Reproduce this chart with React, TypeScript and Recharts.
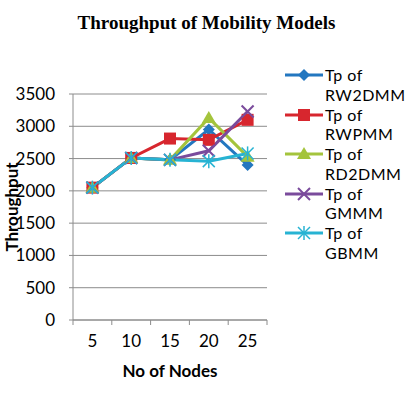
import React from "react";
import { LineChart, Line, XAxis, YAxis, CartesianGrid } from "recharts";

const nodes = [5, 10, 15, 20, 25];
const rw2dmm = [2050, 2510, 2480, 2950, 2400];
const rwpmm = [2050, 2510, 2810, 2790, 3100];
const rd2dmm = [2050, 2510, 2480, 3130, 2530];
const gmmm = [2050, 2510, 2480, 2620, 3230];
const gbmm = [2050, 2510, 2480, 2460, 2580];
const yTicks = [0, 500, 1000, 1500, 2000, 2500, 3000, 3500];
// category boundaries, where Excel puts the x tick marks
const xBounds = [2.5, 7.5, 12.5, 17.5, 22.5, 27.5];

const data = nodes.map((n, i) => ({
  n,
  rw2dmm: rw2dmm[i],
  rwpmm: rwpmm[i],
  rd2dmm: rd2dmm[i],
  gmmm: gmmm[i],
  gbmm: gbmm[i],
}));

const FONT = "Lato, 'Liberation Sans', sans-serif";

type Shape = "diamond" | "square" | "triangle" | "x" | "star";

function Marker({ cx, cy, shape, color }: { cx: number; cy: number; shape: Shape; color: string }) {
  if (cx == null || cy == null) return null;
  if (shape === "diamond") {
    const r = 6;
    return <polygon points={`${cx},${cy - r} ${cx + r},${cy} ${cx},${cy + r} ${cx - r},${cy}`} fill={color} />;
  }
  if (shape === "square") {
    return <rect x={cx - 6} y={cy - 6} width={12} height={12} fill={color} />;
  }
  if (shape === "triangle") {
    return <polygon points={`${cx},${cy - 7} ${cx + 7},${cy + 5} ${cx - 7},${cy + 5}`} fill={color} />;
  }
  if (shape === "x") {
    return (
      <g stroke={color} strokeWidth={2}>
        <line x1={cx - 6} y1={cy - 6} x2={cx + 6} y2={cy + 6} />
        <line x1={cx - 6} y1={cy + 6} x2={cx + 6} y2={cy - 6} />
      </g>
    );
  }
  return (
    <g stroke={color} strokeWidth={1.5}>
      <line x1={cx - 6} y1={cy - 6} x2={cx + 6} y2={cy + 6} />
      <line x1={cx - 6} y1={cy + 6} x2={cx + 6} y2={cy - 6} />
      <line x1={cx} y1={cy - 7} x2={cx} y2={cy + 7} />
    </g>
  );
}

const series: { key: string; name: string; color: string; shape: Shape }[] = [
  { key: "rw2dmm", name: "RW2DMM", color: "#2377c0", shape: "diamond" },
  { key: "rwpmm", name: "RWPMM", color: "#d7262e", shape: "square" },
  { key: "rd2dmm", name: "RD2DMM", color: "#a4c43c", shape: "triangle" },
  { key: "gmmm", name: "GMMM", color: "#7a4b9c", shape: "x" },
  { key: "gbmm", name: "GBMM", color: "#27b3d3", shape: "star" },
];

function LegendBox() {
  return (
    <div style={{ position: "absolute", left: 284, top: 65, width: 129, fontFamily: FONT, fontSize: 16, color: "#000" }}>
      {series.map((s) => (
        <div key={s.key} style={{ display: "flex", alignItems: "flex-start", height: 39.5 }}>
          <svg width={40} height={20}>
            <line x1={1} y1={10} x2={39} y2={10} stroke={s.color} strokeWidth={3} />
            <Marker cx={20} cy={10} shape={s.shape} color={s.color} />
          </svg>
          <div style={{ lineHeight: "19.75px", marginLeft: 1, whiteSpace: "nowrap", letterSpacing: 0.5 }}>
            <div>Tp of</div>
            <div>{s.name}</div>
          </div>
        </div>
      ))}
    </div>
  );
}

function XTick(p: any) {
  const v = p.payload.value;
  if (v >= xBounds[xBounds.length - 1]) return null;
  const half = p.width / (nodes.length * 2);
  return (
    <text x={p.x + half} y={p.y + 20} textAnchor="middle" fontFamily={FONT} fontSize={17} fill="#000">
      {v + 2.5}
    </text>
  );
}

export default function App() {
  return (
    <div style={{ position: "absolute", left: 0, top: 0, width: 413, height: 396, background: "#fff", overflow: "hidden" }}>
      <div
        style={{
          position: "absolute",
          top: 12,
          left: 0,
          width: 413,
          textAlign: "center",
          fontFamily: "'Liberation Serif', serif",
          fontWeight: "bold",
          fontSize: 19,
        }}
      >
        Throughput of Mobility Models
      </div>
      <LineChart width={413} height={396} data={data} margin={{ top: 94, right: 146, left: 0, bottom: 0 }}>
        <CartesianGrid vertical={false} stroke="#8c8c8c" />
        <XAxis
          dataKey="n"
          type="number"
          domain={[2.5, 27.5]}
          ticks={xBounds}
          tickSize={5}
          tickLine={{ stroke: "#8c8c8c" }}
          axisLine={{ stroke: "#8c8c8c" }}
          tick={<XTick />}
          height={76}
          interval={0}
          label={{ value: "No of Nodes", position: "insideBottom", offset: 19, fontFamily: FONT, fontSize: 17, fontWeight: "bold", fill: "#000" }}
        />
        <YAxis
          domain={[0, 3500]}
          ticks={yTicks}
          width={73}
          tickSize={4}
          tickMargin={14}
          tickLine={{ stroke: "#8c8c8c" }}
          axisLine={{ stroke: "#8c8c8c" }}
          tick={{ fontFamily: FONT, fontSize: 17, fill: "#000" }}
          label={{ value: "Throughput", angle: -90, position: "insideLeft", offset: 12, fontFamily: FONT, fontSize: 17, fontWeight: "bold", fill: "#000", style: { textAnchor: "middle" } }}
        />
        {series.map((s) => (
          <Line
            key={s.key}
            dataKey={s.key}
            name={s.name}
            stroke={s.color}
            strokeWidth={3}
            isAnimationActive={false}
            dot={(p: any) => <Marker key={`${s.key}-${p.index}`} cx={p.cx} cy={p.cy} shape={s.shape} color={s.color} />}
          />
        ))}
      </LineChart>
      <LegendBox />
    </div>
  );
}
